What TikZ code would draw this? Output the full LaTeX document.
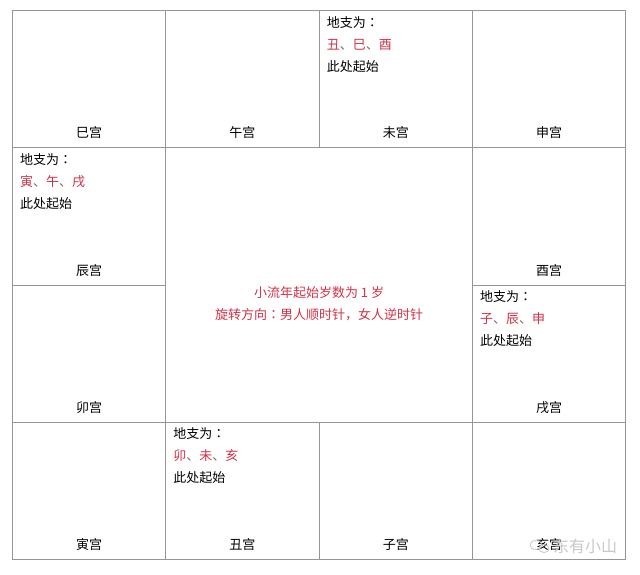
\documentclass[tikz,border=0pt]{standalone}
\usepackage{fontspec}
\setmainfont{Noto Sans CJK SC}
\newfontfamily\tcfont{Noto Sans CJK TC}
\usepackage{xcolor}
\usetikzlibrary{positioning}
\definecolor{gridgray}{RGB}{150,150,150}
\definecolor{zhired}{RGB}{210,50,72}
\definecolor{wmgray}{RGB}{200,200,200}
\tikzset{palace/.style={draw=gridgray,line width=1.1pt,minimum width=153.4pt,minimum height=137.2pt,inner sep=0pt,outer sep=0pt},
         centre/.style={palace,minimum width=306.8pt,minimum height=274.4pt},
         gongname/.style={font=\fontsize{13}{15}\selectfont,inner sep=0pt},
         startnote/.style={font=\fontsize{13}{22}\selectfont,align=left,anchor=north west,inner sep=0pt},
         centrenote/.style={font=\fontsize{13}{22.3}\selectfont,text=zhired,align=center,anchor=north,inner sep=0pt},
         watermark/.style={font=\fontsize{16}{18}\selectfont,text=wmgray,inner sep=0pt},
         node distance=0pt,
         }
\newcommand{\zcolon}{{\tcfont ：}}
\newcommand{\zhi}[3]{\textcolor{zhired}{#1}\textcolor{black!55}{、}\textcolor{zhired}{#2}\textcolor{black!55}{、}\textcolor{zhired}{#3}}

\begin{document}
\begin{tikzpicture}[x=1pt,y=1pt]
\useasboundingbox[fill=white] (0,0) rectangle (640,574);
\node[palace] (si) at (89,494.7) {};
\node[palace] (wu) [right=of si] {};
\node[palace] (wei) [right=of wu] {};
\node[palace] (shen) [right=of wei] {};
\node[palace] (chen) [below=of si] {};
\node[palace] (mao) [below=of chen] {};
\node[palace] (yin) [below=of mao] {};
\node[palace] (chou) [right=of yin] {};
\node[palace] (zi) [right=of chou] {};
\node[palace] (hai) [right=of zi] {};
\node[palace] (you) [below=of shen] {};
\node[palace] (xu) [below=of you] {};
\node[centre] (mid) [below right=of si] {};

\node[gongname] (si-l) at ([yshift=15pt]si.south) {巳宫};
\node[gongname] (wu-l) at ([yshift=15pt]wu.south) {午宫};
\node[gongname] (wei-l) at ([yshift=15pt]wei.south) {未宫};
\node[gongname] (shen-l) at ([yshift=15pt]shen.south) {申宫};
\node[gongname] (chen-l) at ([yshift=15pt]chen.south) {辰宫};
\node[gongname] (you-l) at ([yshift=15pt]you.south) {酉宫};
\node[gongname] (mao-l) at ([yshift=15pt]mao.south) {卯宫};
\node[gongname] (xu-l) at ([yshift=15pt]xu.south) {戌宫};
\node[gongname] (yin-l) at ([yshift=15pt]yin.south) {寅宫};
\node[gongname] (chou-l) at ([yshift=15pt]chou.south) {丑宫};
\node[gongname] (zi-l) at ([yshift=15pt]zi.south) {子宫};
\node[gongname] (hai-l) at ([yshift=15pt]hai.south) {亥宫};

\node[startnote] (wei-n) at ([shift={(7.5,-5.5)}]wei.north west) {地支为\zcolon\\\zhi{丑}{巳}{酉}\\此处起始};
\node[startnote] (chen-n) at ([shift={(7.5,-5.5)}]chen.north west) {地支为\zcolon\\\zhi{寅}{午}{戌}\\此处起始};
\node[startnote] (xu-n) at ([shift={(7.5,-5.5)}]xu.north west) {地支为\zcolon\\\zhi{子}{辰}{申}\\此处起始};
\node[startnote] (chou-n) at ([shift={(7.5,-5.5)}]chou.north west) {地支为\zcolon\\\zhi{卯}{未}{亥}\\此处起始};

\node[centrenote] (mid-n) at ([yshift=-138.5pt]mid.north) {小流年起始岁数为 1 岁\\旋转方向\zcolon 男人顺时针，女人逆时针};

\node[watermark] (wm) at (585,28) {东有小山};
\draw[wmgray,line width=0.8pt] (536,29) ellipse (6 and 4.5) (544,25.5) ellipse (5 and 4);
\end{tikzpicture}
\end{document}
